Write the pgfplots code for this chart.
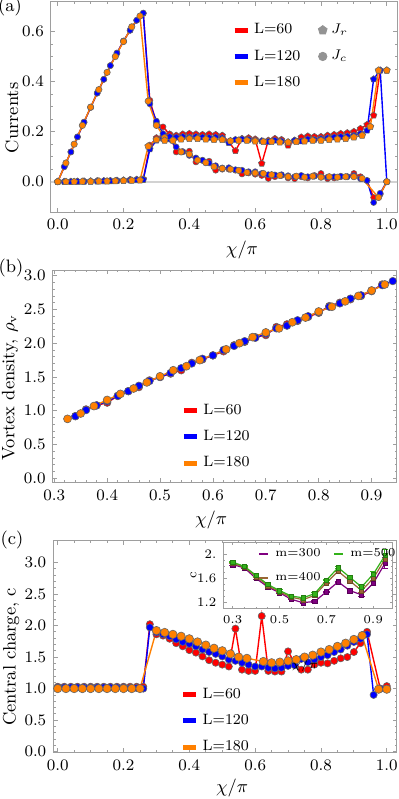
\documentclass[border=0pt]{standalone}
\usepackage{pgfplots}
\pgfplotsset{compat=1.18}
\usetikzlibrary{plotmarks}
\definecolor{cR}{rgb}{1,0,0}
\definecolor{cB}{rgb}{0,0,1}
\definecolor{cO}{rgb}{1,0.5,0}
\definecolor{cP}{rgb}{0.5,0,0.5}
\definecolor{cBr}{rgb}{0.6,0.4,0.2}
\definecolor{cG}{rgb}{0.2,0.7,0.1}
\definecolor{frm}{gray}{0.62}
\pgfplotsset{
 mystyle/.style={
  scale only axis,
  axis line style={frm, line width=0.5pt},
  tick style={frm, line width=0.4pt},
  tick align=inside,
  major tick length=2.2pt,
  minor tick length=1.2pt,
  tick label style={font=\fontsize{8.5}{10}\selectfont, black},
  label style={font=\fontsize{9}{11}\selectfont},
  /pgf/number format/fixed, /pgf/number format/fixed zerofill, /pgf/number format/precision=1,
  legend cell align=left,
 },
 sR/.style={cR, line width=0.7pt, mark=*, mark size=1.5pt, mark options={fill=cR, draw=black!60, line width=0.3pt}},
 sB/.style={cB, line width=0.7pt, mark=*, mark size=1.5pt, mark options={fill=cB, draw=black!60, line width=0.3pt}},
 sO/.style={cO, line width=0.7pt, mark=*, mark size=1.6pt, mark options={fill=cO, draw=black!60, line width=0.3pt}},
 barleg/.style={legend image code/.code={\draw[line width=2.5pt] (0pt,0pt) -- (6.5pt,0pt);}},
 barlegs/.style={legend image code/.code={\draw[line width=1.3pt] (0pt,0pt) -- (4.5pt,0pt);}},
}
\begin{document}
\begin{tikzpicture}
\path[use as bounding box] (0,0) rectangle (199pt,-399.5pt);
% ---------------- (a) ----------------
\begin{axis}[mystyle, at={(25.5pt,-0.75pt)}, anchor=north west,
 width=173pt, height=105.25pt,
 xmin=-0.0204, xmax=1.031, ymin=-0.121, ymax=0.72,
 xtick={0,0.2,0.4,0.6,0.8,1.0}, ytick={0,0.2,0.4,0.6},
 minor x tick num=3, minor y tick num=3,
 xlabel={$\chi/\pi$}, ylabel={Currents},
 xlabel style={at={(axis description cs:0.552,-0.181)}, anchor=center},
 ylabel style={at={(axis description cs:-0.113,0.447)}, anchor=center},
 legend columns=2,
 legend style={draw=none, fill=none, at={(axis description cs:0.505,0.935)}, anchor=north west,
   font=\fontsize{7.5}{9}\selectfont, row sep=2.5pt, /tikz/every even column/.append style={column sep=7pt}},
]
\addplot[gray!35, line width=1pt, forget plot] coordinates {(-0.1,0) (1.1,0)};
% L=60 Jc
\addplot[sR, forget plot] coordinates {(0,0) (0.02,0.060) (0.04,0.119) (0.06,0.179) (0.08,0.238) (0.10,0.297) (0.12,0.354) (0.14,0.409) (0.16,0.464) (0.18,0.514) (0.20,0.562) (0.22,0.605) (0.24,0.645) (0.26,0.672) (0.28,0.325) (0.30,0.235) (0.32,0.219) (0.34,0.19) (0.36,0.119) (0.38,0.12) (0.40,0.122) (0.42,0.079) (0.44,0.085) (0.46,0.082) (0.48,0.046) (0.50,0.05) (0.52,0.05) (0.54,0.046) (0.56,0.031) (0.58,0.035) (0.60,0.03) (0.62,0.025) (0.64,0.013) (0.66,0.02) (0.68,0.025) (0.70,0.015) (0.72,0.012) (0.74,0.02) (0.76,0.015) (0.78,0.025) (0.80,0.033) (0.82,0.012) (0.84,0.015) (0.86,0.02) (0.88,0.02) (0.90,0.033) (0.92,0.02) (0.94,0.005) (0.96,-0.063) (0.98,-0.05) (1.0,0.0)};
% L=60 Jr
\addplot[sR, mark=pentagon*, mark size=1.7pt, forget plot] coordinates {(0,0) (0.02,0) (0.04,0.001) (0.06,0.001) (0.08,0.002) (0.10,0.002) (0.12,0.003) (0.14,0.003) (0.16,0.004) (0.18,0.005) (0.20,0.006) (0.22,0.008) (0.24,0.009) (0.26,0.011) (0.28,0.145) (0.30,0.175) (0.32,0.182) (0.34,0.19) (0.36,0.185) (0.38,0.19) (0.40,0.192) (0.42,0.19) (0.44,0.188) (0.46,0.19) (0.48,0.188) (0.50,0.185) (0.52,0.16) (0.54,0.123) (0.56,0.172) (0.58,0.175) (0.60,0.17) (0.62,0.073) (0.64,0.165) (0.66,0.172) (0.68,0.168) (0.70,0.145) (0.72,0.165) (0.74,0.178) (0.76,0.182) (0.78,0.18) (0.80,0.18) (0.82,0.185) (0.84,0.188) (0.86,0.192) (0.88,0.195) (0.90,0.2) (0.92,0.212) (0.94,0.228) (0.96,0.265) (0.98,0.445) (1.0,0.445)};
% L=120 Jc
\addplot[sB, forget plot] coordinates {(0,0) (0.02,0.060) (0.04,0.119) (0.06,0.179) (0.08,0.238) (0.10,0.297) (0.12,0.354) (0.14,0.409) (0.16,0.464) (0.18,0.514) (0.20,0.562) (0.22,0.605) (0.24,0.645) (0.26,0.674) (0.28,0.311) (0.30,0.242) (0.32,0.192) (0.34,0.17) (0.36,0.139) (0.38,0.12) (0.40,0.105) (0.42,0.095) (0.44,0.086) (0.46,0.075) (0.48,0.064) (0.50,0.055) (0.52,0.056) (0.54,0.048) (0.56,0.046) (0.58,0.04) (0.60,0.040) (0.62,0.033) (0.64,0.028) (0.66,0.027) (0.68,0.028) (0.70,0.024) (0.72,0.02) (0.74,0.025) (0.76,0.02) (0.78,0.022) (0.80,0.02) (0.82,0.018) (0.84,0.02) (0.86,0.022) (0.88,0.02) (0.90,0.025) (0.92,0.012) (0.94,0.005) (0.96,-0.083) (0.98,-0.046) (1.0,0.0)};
% L=120 Jr
\addplot[sB, mark=pentagon*, mark size=1.7pt, forget plot] coordinates {(0,0) (0.02,0) (0.04,0) (0.06,0.001) (0.08,0.001) (0.10,0.002) (0.12,0.002) (0.14,0.003) (0.16,0.003) (0.18,0.004) (0.20,0.005) (0.22,0.006) (0.24,0.007) (0.26,0.008) (0.28,0.13) (0.30,0.165) (0.32,0.172) (0.34,0.18) (0.36,0.178) (0.38,0.18) (0.40,0.178) (0.42,0.18) (0.44,0.178) (0.46,0.176) (0.48,0.178) (0.50,0.175) (0.52,0.155) (0.54,0.168) (0.56,0.17) (0.58,0.168) (0.60,0.165) (0.62,0.163) (0.64,0.16) (0.66,0.165) (0.68,0.162) (0.70,0.157) (0.72,0.165) (0.74,0.162) (0.76,0.17) (0.78,0.168) (0.80,0.172) (0.82,0.175) (0.84,0.178) (0.86,0.18) (0.88,0.182) (0.90,0.185) (0.92,0.192) (0.94,0.205) (0.96,0.41) (0.98,0.445) (1.0,0.0)};
% L=180 Jc
\addplot[sO, forget plot] coordinates {(0,0) (0.025,0.075) (0.05,0.15) (0.075,0.225) (0.10,0.298) (0.125,0.368) (0.15,0.437) (0.175,0.500) (0.20,0.560) (0.225,0.619) (0.25,0.662) (0.275,0.322) (0.30,0.225) (0.325,0.176) (0.35,0.165) (0.375,0.119) (0.40,0.11) (0.425,0.086) (0.45,0.076) (0.475,0.06) (0.50,0.053) (0.525,0.05) (0.55,0.045) (0.575,0.037) (0.60,0.035) (0.625,0.033) (0.65,0.028) (0.675,0.025) (0.70,0.02) (0.725,0.022) (0.75,0.018) (0.775,0.022) (0.80,0.018) (0.825,0.02) (0.85,0.018) (0.875,0.02) (0.90,0.02) (0.925,0.013) (0.975,-0.063) (1.0,0.0)};
% L=180 Jr
\addplot[sO, mark=pentagon*, mark size=1.8pt, forget plot] coordinates {(0,0) (0.025,0) (0.05,0) (0.075,0.001) (0.10,0.001) (0.125,0.002) (0.15,0.002) (0.175,0.003) (0.20,0.004) (0.225,0.005) (0.25,0.006) (0.275,0.142) (0.30,0.168) (0.325,0.165) (0.35,0.165) (0.375,0.17) (0.40,0.172) (0.425,0.172) (0.45,0.17) (0.475,0.168) (0.50,0.168) (0.525,0.163) (0.55,0.165) (0.575,0.165) (0.60,0.162) (0.625,0.16) (0.65,0.16) (0.675,0.158) (0.70,0.158) (0.725,0.16) (0.75,0.162) (0.775,0.165) (0.80,0.165) (0.825,0.168) (0.85,0.17) (0.875,0.172) (0.90,0.178) (0.925,0.185) (0.95,0.22) (0.975,0.445) (1.0,0.445)};
\addlegendimage{cR, barleg}\addlegendentry{L=60}
\addlegendimage{only marks, mark=pentagon*, mark size=2.3pt, gray!85}\addlegendentry{$J_r$}
\addlegendimage{cB, barleg}\addlegendentry{L=120}
\addlegendimage{only marks, mark=*, mark size=2.1pt, gray!85}\addlegendentry{$J_c$}
\addlegendimage{cO, barleg}\addlegendentry{L=180}
\end{axis}
% ---------------- (b) ----------------
\begin{axis}[mystyle, at={(26.35pt,-135pt)}, anchor=north west,
 width=172.15pt, height=106.35pt,
 xmin=0.297, xmax=0.948, ymin=-0.065, ymax=3.084,
 xtick={0.3,0.4,0.5,0.6,0.7,0.8,0.9}, ytick={0,0.5,1.0,1.5,2.0,2.5,3.0},
 minor x tick num=4, minor y tick num=4,
 xlabel={$\chi/\pi$}, ylabel={Vortex density, $\rho_{\mathrm{v}}$},
 xlabel style={at={(axis description cs:0.46,-0.174)}, anchor=center},
 ylabel style={at={(axis description cs:-0.124,0.448)}, anchor=center},
 legend style={draw=none, fill=none, at={(axis description cs:0.355,0.41)}, anchor=north west,
   font=\fontsize{7.5}{9}\selectfont, row sep=2.5pt},
]
\addplot[sR, mark size=1.9pt, forget plot] coordinates {(0.34,0.92) (0.36,1.02) (0.38,1.08) (0.40,1.12) (0.42,1.22) (0.44,1.29) (0.46,1.35) (0.48,1.45) (0.50,1.50) (0.52,1.55) (0.54,1.60) (0.56,1.71) (0.58,1.76) (0.60,1.82) (0.62,1.88) (0.64,1.97) (0.66,2.02) (0.68,2.09) (0.70,2.12) (0.72,2.24) (0.74,2.28) (0.76,2.33) (0.78,2.39) (0.80,2.45) (0.82,2.55) (0.84,2.60) (0.86,2.65) (0.88,2.70) (0.90,2.77) (0.92,2.87)};
\addplot[sB, mark size=1.9pt, forget plot] coordinates {(0.34,0.92) (0.36,1.01) (0.38,1.08) (0.40,1.14) (0.42,1.22) (0.44,1.29) (0.46,1.37) (0.48,1.44) (0.50,1.50) (0.52,1.56) (0.54,1.63) (0.56,1.70) (0.58,1.77) (0.60,1.82) (0.62,1.90) (0.64,1.96) (0.66,2.03) (0.68,2.08) (0.70,2.14) (0.72,2.22) (0.74,2.26) (0.76,2.34) (0.78,2.40) (0.80,2.46) (0.82,2.54) (0.84,2.59) (0.86,2.66) (0.88,2.71) (0.90,2.78) (0.92,2.86) (0.94,2.92)};
\addplot[sO, mark size=2.0pt, forget plot] coordinates {(0.325,0.88) (0.35,0.96) (0.375,1.07) (0.40,1.16) (0.425,1.25) (0.45,1.33) (0.475,1.42) (0.50,1.51) (0.525,1.60) (0.55,1.66) (0.575,1.75) (0.625,1.91) (0.65,2.00) (0.675,2.09) (0.70,2.16) (0.725,2.22) (0.75,2.31) (0.775,2.38) (0.80,2.47) (0.825,2.54) (0.85,2.62) (0.875,2.70) (0.90,2.78) (0.925,2.87)};
\addlegendimage{cR, barleg}\addlegendentry{L=60}
\addlegendimage{cB, barleg}\addlegendentry{L=120}
\addlegendimage{cO, barleg}\addlegendentry{L=180}
\end{axis}
% ---------------- (c) ----------------
\begin{axis}[mystyle, at={(26.65pt,-270.25pt)}, anchor=north west,
 width=171.85pt, height=106.1pt,
 xmin=-0.0134, xmax=1.031, ymin=-0.016, ymax=3.347,
 xtick={0,0.2,0.4,0.6,0.8,1.0}, ytick={0,0.5,1.0,1.5,2.0,2.5,3.0},
 minor x tick num=3, minor y tick num=4,
 xlabel={$\chi/\pi$}, ylabel={Central charge, c},
 xlabel style={at={(axis description cs:0.52,-0.166)}, anchor=center},
 ylabel style={at={(axis description cs:-0.123,0.451)}, anchor=center},
 legend style={draw=none, fill=none, at={(axis description cs:0.352,0.345)}, anchor=north west,
   font=\fontsize{7.5}{9}\selectfont, row sep=2.5pt},
]
\addplot[sR, mark size=1.8pt, forget plot] coordinates {(0,1.03) (0.02,1.03) (0.04,1.03) (0.06,1.03) (0.08,1.03) (0.10,1.03) (0.12,1.03) (0.14,1.03) (0.16,1.03) (0.18,1.03) (0.20,1.03) (0.22,1.03) (0.24,1.03) (0.26,1.03) (0.28,2.02) (0.30,1.86) (0.32,1.84) (0.34,1.79) (0.36,1.72) (0.38,1.67) (0.40,1.61) (0.42,1.57) (0.44,1.51) (0.46,1.45) (0.48,1.41) (0.50,1.38) (0.52,1.35) (0.54,1.95) (0.56,1.30) (0.58,1.28) (0.60,1.28) (0.62,2.15) (0.64,1.28) (0.66,1.27) (0.68,1.27) (0.70,1.59) (0.72,1.41) (0.74,1.30) (0.76,1.30) (0.78,1.38) (0.80,1.41) (0.82,1.40) (0.84,1.44) (0.86,1.48) (0.88,1.50) (0.90,1.58) (0.92,1.72) (0.94,1.90) (0.98,1.0) (1.0,1.04)};
\addplot[sB, mark size=1.8pt, forget plot] coordinates {(0,1.02) (0.02,1.02) (0.04,1.02) (0.06,1.02) (0.08,1.02) (0.10,1.02) (0.12,1.02) (0.14,1.02) (0.16,1.02) (0.18,1.02) (0.20,1.02) (0.22,1.01) (0.24,1.01) (0.26,1.0) (0.28,1.97) (0.30,1.89) (0.32,1.86) (0.34,1.83) (0.36,1.78) (0.38,1.74) (0.40,1.71) (0.42,1.67) (0.44,1.62) (0.46,1.58) (0.48,1.55) (0.50,1.51) (0.52,1.46) (0.54,1.44) (0.56,1.41) (0.58,1.38) (0.60,1.35) (0.62,1.35) (0.64,1.33) (0.66,1.32) (0.68,1.33) (0.70,1.36) (0.72,1.37) (0.74,1.47) (0.76,1.42) (0.78,1.46) (0.80,1.50) (0.82,1.53) (0.84,1.58) (0.86,1.62) (0.88,1.68) (0.90,1.74) (0.92,1.79) (0.94,1.86) (0.96,0.90) (0.98,1.0) (1.0,1.0)};
\addplot[sO, mark size=2.1pt, forget plot] coordinates {(0,1.0) (0.025,1.0) (0.05,1.0) (0.075,1.0) (0.10,1.0) (0.125,1.0) (0.15,1.0) (0.175,1.0) (0.20,1.0) (0.225,1.0) (0.25,1.0) (0.30,1.92) (0.325,1.89) (0.35,1.86) (0.375,1.83) (0.40,1.79) (0.425,1.74) (0.45,1.69) (0.475,1.64) (0.50,1.60) (0.525,1.55) (0.55,1.50) (0.575,1.48) (0.625,1.43) (0.65,1.41) (0.675,1.42) (0.70,1.44) (0.725,1.46) (0.75,1.50) (0.775,1.53) (0.80,1.58) (0.825,1.62) (0.85,1.67) (0.875,1.72) (0.90,1.78) (0.925,1.84) (0.975,0.99) (1.0,0.99)};
\addlegendimage{cR, barleg}\addlegendentry{L=60}
\addlegendimage{cB, barleg}\addlegendentry{L=120}
\addlegendimage{cO, barleg}\addlegendentry{L=180}
\end{axis}
% ---------------- inset ----------------
\begin{axis}[mystyle, at={(111.65pt,-271pt)}, anchor=north west,
 width=84.7pt, height=33.35pt,
 axis background/.style={fill=white},
 xmin=0.26, xmax=0.983, ymin=1.10, ymax=2.203,
 xtick={0.3,0.5,0.7,0.9}, ytick={1.2,1.6,2.0}, yticklabels={1.2,1.6,2.},
 minor x tick num=3, minor y tick num=3,
 major tick length=1.6pt, minor tick length=0.9pt,
 tick label style={font=\fontsize{6.5}{8}\selectfont},
 label style={font=\fontsize{6.5}{8}\selectfont},
 xlabel={$\chi/\pi$}, ylabel={c},
 xlabel style={at={(axis description cs:0.482,-0.85)}, anchor=center},
 ylabel style={at={(axis description cs:-0.175,0.5)}, anchor=center},
 legend columns=2,
 legend style={draw=none, fill=none, at={(axis description cs:0.19,1.0)}, anchor=north west,
   font=\fontsize{6}{7}\selectfont, row sep=2.5pt, inner sep=1pt,
   /tikz/every odd column/.append style={column sep=1pt},
   /tikz/every even column/.append style={column sep=4pt}},
]
\addplot[cP, forget plot, line width=0.6pt, mark=square*, mark size=1.1pt, mark options={fill=cP, draw=cP!70!black, line width=0.25pt},
  error bars/.cd, y dir=both, y explicit, error bar style={line width=0.5pt, cP}, error mark options={rotate=90, mark size=1.6pt, line width=0.5pt, cP}]
  coordinates {(0.30,1.83) +- (0,0.01) (0.35,1.775) +- (0,0.01) (0.40,1.60) +- (0,0.01) (0.45,1.46) +- (0,0.01) (0.50,1.365) +- (0,0.01) (0.55,1.255) +- (0,0.01) (0.60,1.20) +- (0,0.01) (0.65,1.22) +- (0,0.01) (0.70,1.38) +- (0,0.01) (0.75,1.545) +- (0,0.01) (0.80,1.40) +- (0,0.01) (0.85,1.33) +- (0,0.03) (0.90,1.52) +- (0,0.04) (0.95,1.85) +- (0,0.09)};
\addplot[cBr, forget plot, line width=0.6pt, mark=square*, mark size=1.1pt, mark options={fill=cBr, draw=cBr!70!black, line width=0.25pt},
  error bars/.cd, y dir=both, y explicit, error bar style={line width=0.5pt, cBr}, error mark options={rotate=90, mark size=1.6pt, line width=0.5pt, cBr}]
  coordinates {(0.30,1.85) +- (0,0.01) (0.35,1.79) +- (0,0.01) (0.40,1.63) +- (0,0.01) (0.45,1.48) +- (0,0.01) (0.50,1.38) +- (0,0.01) (0.55,1.29) +- (0,0.01) (0.60,1.25) +- (0,0.01) (0.65,1.32) +- (0,0.01) (0.70,1.53) +- (0,0.01) (0.75,1.72) +- (0,0.01) (0.80,1.56) +- (0,0.01) (0.85,1.40) +- (0,0.03) (0.90,1.60) +- (0,0.04) (0.95,1.92) +- (0,0.08)};
\addplot[cG, forget plot, line width=0.6pt, mark=square*, mark size=1.1pt, mark options={fill=cG, draw=cG!70!black, line width=0.25pt},
  error bars/.cd, y dir=both, y explicit, error bar style={line width=0.5pt, cG}, error mark options={rotate=90, mark size=1.6pt, line width=0.5pt, cG}]
  coordinates {(0.30,1.87) +- (0,0.01) (0.35,1.80) +- (0,0.01) (0.40,1.65) +- (0,0.01) (0.45,1.50) +- (0,0.01) (0.50,1.40) +- (0,0.01) (0.55,1.31) +- (0,0.01) (0.60,1.28) +- (0,0.01) (0.65,1.35) +- (0,0.01) (0.70,1.57) +- (0,0.01) (0.75,1.78) +- (0,0.01) (0.80,1.62) +- (0,0.01) (0.85,1.46) +- (0,0.03) (0.90,1.67) +- (0,0.04) (0.95,1.98) +- (0,0.1)};
\addlegendimage{cP, barlegs}\addlegendentry{m=300}
\addlegendimage{cG, barlegs}\addlegendentry{m=500}
\addlegendimage{cBr, barlegs}\addlegendentry{m=400}
\end{axis}
\node[font=\fontsize{9}{11}\selectfont, inner sep=0pt] at (5pt,-3.5pt) {(a)};
\node[font=\fontsize{9}{11}\selectfont, inner sep=0pt] at (5.5pt,-134pt) {(b)};
\node[font=\fontsize{9}{11}\selectfont, inner sep=0pt] at (6pt,-270pt) {(c)};
\end{tikzpicture}
\end{document}
